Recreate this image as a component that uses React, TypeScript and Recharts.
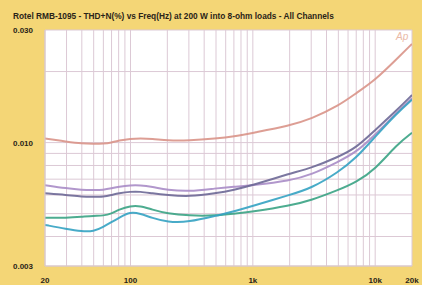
import React from 'react';
import { LineChart, Line, XAxis, YAxis, CartesianGrid } from 'recharts';

const freqs = [20, 30, 40, 50, 60, 70, 80, 100, 120, 150, 200, 300, 500, 700, 1000, 2000, 3000, 5000, 7000, 10000, 15000, 20000];
const chOrange = [0.0104, 0.0101, 0.0099, 0.0099, 0.0099, 0.0100, 0.0102, 0.0104, 0.0104, 0.0104, 0.0102, 0.0102, 0.0104, 0.0106, 0.0110, 0.0118, 0.0126, 0.0143, 0.0162, 0.0184, 0.0226, 0.0262];
const chPurple = [0.0066, 0.0064, 0.0063, 0.0063, 0.0063, 0.0064, 0.0065, 0.0066, 0.0066, 0.0065, 0.0063, 0.0062, 0.0064, 0.0065, 0.0066, 0.0069, 0.0073, 0.0083, 0.0091, 0.0108, 0.0134, 0.0154];
const chDark = [0.0061, 0.0060, 0.0059, 0.0059, 0.0059, 0.0060, 0.0061, 0.0062, 0.0062, 0.0061, 0.0060, 0.0059, 0.0061, 0.0063, 0.0066, 0.0074, 0.0078, 0.0087, 0.0095, 0.0113, 0.0137, 0.0159];
const chGreen = [0.0048, 0.0048, 0.00485, 0.0049, 0.0049, 0.0050, 0.0052, 0.0054, 0.0054, 0.0052, 0.0050, 0.0049, 0.0049, 0.0050, 0.0051, 0.0054, 0.0057, 0.0063, 0.0068, 0.0077, 0.0098, 0.0110];
const chBlue = [0.00448, 0.0043, 0.0042, 0.0042, 0.0044, 0.0046, 0.0048, 0.0051, 0.0050, 0.0048, 0.0046, 0.0046, 0.0049, 0.0051, 0.0054, 0.0060, 0.0064, 0.0075, 0.0086, 0.0106, 0.0133, 0.0152];

const xGridTicks = [20, 30, 40, 50, 60, 70, 80, 90, 100, 200, 300, 400, 500, 600, 700, 800, 900, 1000, 2000, 3000, 4000, 5000, 6000, 7000, 8000, 9000, 10000, 20000];
const xLabels: Record<number, string> = { 20: '20', 100: '100', 1000: '1k', 10000: '10k', 20000: '20k' };
const yGridTicks = [0.003, 0.004, 0.005, 0.006, 0.007, 0.008, 0.009, 0.01, 0.02, 0.03];
const yLabels: Record<number, string> = { 0.003: '0.003', 0.01: '0.010', 0.03: '0.030' };

const title = 'Rotel RMB-1095 - THD+N(%) vs Freq(Hz) at 200 W into 8-ohm loads - All Channels';

const data = freqs.map((f, i) => ({
  f,
  orange: chOrange[i],
  purple: chPurple[i],
  dark: chDark[i],
  green: chGreen[i],
  blue: chBlue[i],
}));

const font = '"Liberation Sans", Arial, sans-serif';

const XTick = (props: any) => {
  const { x, y, payload } = props;
  const lbl = xLabels[payload.value];
  if (!lbl) return null;
  return (
    <text x={x} y={y + 9} textAnchor="middle" fontFamily={font} fontWeight="bold" fontSize={8} fill="#2a2418">
      {lbl}
    </text>
  );
};

const YTick = (props: any) => {
  const { x, y, payload } = props;
  const key = Object.keys(yLabels).find((k) => Math.abs(Number(k) - payload.value) < 1e-9);
  if (!key) return null;
  return (
    <text x={x - 4} y={y + 3} textAnchor="end" fontFamily={font} fontWeight="bold" fontSize={8} fill="#2a2418">
      {yLabels[Number(key)]}
    </text>
  );
};

export default function App() {
  return (
    <div style={{ position: 'absolute', left: 0, top: 0, width: 422, height: 285, background: '#f4d676', overflow: 'hidden' }}>
      <div style={{ position: 'absolute', left: 13, top: 11, fontFamily: font, fontWeight: 'bold', fontSize: 8.3, color: '#2a2418', whiteSpace: 'nowrap' }}>
        {title}
      </div>
      <div style={{ position: 'absolute', left: 0, top: 0 }}>
        <LineChart width={422} height={285} data={data} margin={{ top: 30, right: 10, bottom: 0, left: 0 }}>
          <CartesianGrid stroke="#dcc9d5" strokeWidth={1} fill="#ffffff" fillOpacity={1} />
          <XAxis
            dataKey="f"
            type="number"
            scale="log"
            domain={[20, 20000]}
            ticks={xGridTicks}
            interval={0}
            allowDataOverflow
            axisLine={{ stroke: '#d8c8c8' }}
            tickLine={false}
            tick={<XTick />}
            height={19}
          />
          <YAxis
            type="number"
            scale="log"
            domain={[0.003, 0.03]}
            ticks={yGridTicks}
            interval={0}
            allowDataOverflow
            axisLine={{ stroke: '#d8c8c8' }}
            tickLine={false}
            tick={<YTick />}
            width={45}
          />
          <Line dataKey="orange" type="basis" stroke="#d99488" strokeWidth={2} dot={false} isAnimationActive={false} strokeOpacity={0.9} />
          <Line dataKey="purple" type="basis" stroke="#a98cc6" strokeWidth={2} dot={false} isAnimationActive={false} strokeOpacity={0.9} />
          <Line dataKey="dark" type="basis" stroke="#6d6896" strokeWidth={2} dot={false} isAnimationActive={false} strokeOpacity={0.9} />
          <Line dataKey="green" type="basis" stroke="#3aa384" strokeWidth={2} dot={false} isAnimationActive={false} strokeOpacity={0.9} />
          <Line dataKey="blue" type="basis" stroke="#34a2c2" strokeWidth={2} dot={false} isAnimationActive={false} strokeOpacity={0.9} />
        </LineChart>
      </div>
      <div style={{ position: 'absolute', left: 396, top: 31, fontFamily: font, fontStyle: 'italic', fontSize: 10, color: '#eab9a6' }}>
        Ap
      </div>
    </div>
  );
}
